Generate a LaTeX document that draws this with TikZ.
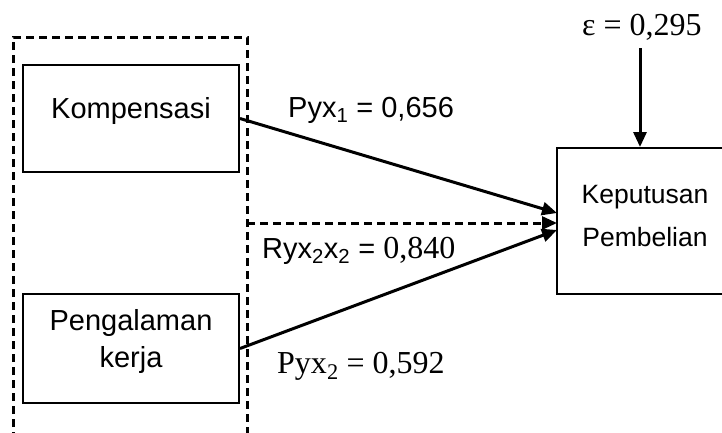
\documentclass[tikz,border=0pt]{standalone}
\usepackage{fontspec}
\setmainfont{Liberation Serif}
\setsansfont{Liberation Sans}
\usetikzlibrary{arrows.meta}
\begin{document}
\begin{tikzpicture}[x=1pt,y=-1pt,
  box/.style={draw, line width=2pt, inner sep=0pt},
  arialtext/.style={font=\sffamily\fontsize{29}{34}\selectfont, inner sep=0pt},
  arialsmall/.style={font=\sffamily\fontsize{26.5}{32}\selectfont, inner sep=0pt},
  timestext/.style={font=\rmfamily\fontsize{32}{36}\selectfont, inner sep=0pt},
  arrowline/.style={line width=3pt, -{Triangle[length=15pt,width=13pt]}},
  dashline/.style={line width=3pt, dash pattern=on 8pt off 5pt}]
\useasboundingbox (0,0) rectangle (722,432);
% boxes
\node[box, minimum width=216pt, minimum height=107pt] (komp) at (131,118.5) {};
\node[box, minimum width=216pt, minimum height=109pt] (peng) at (131,348.5) {};
\node[box, minimum width=170pt, minimum height=146pt] (kp) at (642,221) {};
% box texts
\node[arialtext, anchor=base] (tkomp) at (131,118) {Kompensasi};
\node[arialtext, anchor=base] (tpeng1) at (131,330) {Pengalaman};
\node[arialtext, anchor=base] (tpeng2) at (131,367) {kerja};
\node[arialsmall, anchor=base] (tkp1) at (645,203) {Keputusan};
\node[arialsmall, anchor=base] (tkp2) at (645,246) {Pembelian};
% dashed frame (open at bottom)
\coordinate (fbl) at (13,440);
\coordinate (ftl) at (13,37);
\coordinate (ftr) at (247,37);
\coordinate (fbr) at (247,440);
\coordinate (fmid) at (247,223);
\draw[dashline] (fbl) -- (ftl) -- (ftr) -- (fbr);
% arrow end points on the left edge of the target box
\coordinate (e1) at (557,213);
\coordinate (e2) at (557,223);
\coordinate (e3) at (557,230);
\coordinate (eps) at (640,48);
\draw[arrowline] (komp.east) -- (e1);
\draw[arrowline] (peng.east) -- (e3);
\draw[dashline, -{Triangle[length=15pt,width=13pt]}] (fmid) -- (e2);
\draw[arrowline] (eps) -- (eps |- kp.north);
% labels
\node[arialtext, anchor=base west] (l1) at (288,117) {Pyx\textsubscript{1} = 0,656};
\node[arialtext, anchor=base west] (l2) at (262,258) {Ryx\textsubscript{2}x\textsubscript{2} = {\rmfamily\fontsize{32}{36}\selectfont 0,840}};
\node[timestext, anchor=base west] (l3) at (277,373) {Pyx\textsubscript{2} = 0,592};
\node[timestext, anchor=base west] (l4) at (582,35) {ε = 0,295};
\end{tikzpicture}
\end{document}
